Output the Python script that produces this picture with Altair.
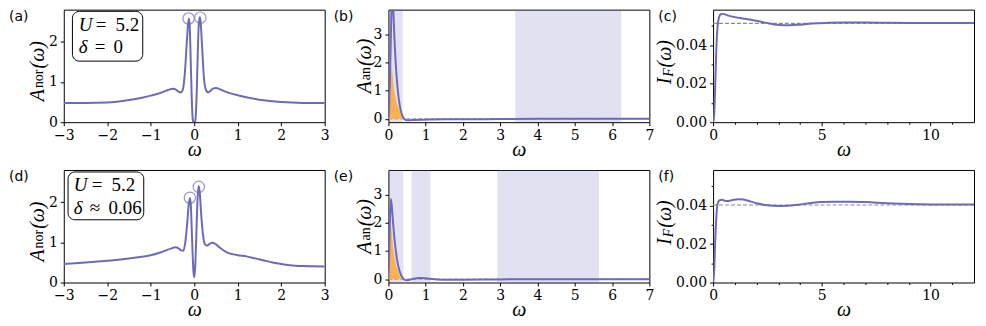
import json
import altair as alt
import pandas as pd

PURPLE = "#6f6ab8"
ORANGE = "#fbb151"
GRAY = "#8c8c8c"
W, H = 262, 113
MATH = "Liberation Serif"
NUM = "DejaVu Serif"
SANS = "DejaVu Sans"

# ---------------- data ----------------
# (a) normal spectral function, delta = 0
a_w = [-3.0, -2.5, -2.0, -1.5, -1.2, -1.0, -0.8, -0.65, -0.55, -0.48, -0.42, -0.36, -0.31, -0.26,
       -0.21, -0.17, -0.14, -0.12, -0.10, -0.08, -0.06, -0.04, -0.02, 0.0, 0.02, 0.04, 0.06, 0.08,
       0.10, 0.13, 0.15, 0.18, 0.22, 0.27, 0.32, 0.38, 0.44, 0.50, 0.57, 0.65, 0.8, 1.0, 1.2, 1.5,
       2.0, 2.5, 3.0]
a_A = [0.48, 0.48, 0.49, 0.55, 0.61, 0.66, 0.72, 0.78, 0.82, 0.83, 0.81, 0.76, 0.74, 0.82,
       1.3, 2.0, 2.45, 2.58, 2.3, 1.5, 0.7, 0.15, 0.0, 0.0, 0.02, 0.25, 0.85, 1.65,
       2.35, 2.62, 2.45, 1.9, 1.15, 0.8, 0.74, 0.79, 0.84, 0.85, 0.83, 0.79, 0.73, 0.67, 0.62, 0.56,
       0.5, 0.48, 0.48]
a_circle_w = [-0.13, 0.14]
a_circle_A = [2.58, 2.60]

# (d) normal spectral function, delta ~ 0.06
d_w = [-3.0, -2.5, -2.0, -1.5, -1.2, -1.0, -0.8, -0.65, -0.52, -0.43, -0.36, -0.30, -0.25, -0.20,
       -0.16, -0.13, -0.10, -0.08, -0.06, -0.04, -0.02, 0.0, 0.02, 0.04, 0.06, 0.08, 0.105, 0.13,
       0.16, 0.20, 0.25, 0.30, 0.36, 0.42, 0.50, 0.60, 0.75, 0.90, 1.0, 1.2, 1.4, 1.6, 1.8, 2.0,
       2.2, 2.5, 3.0]
d_A = [0.46, 0.50, 0.54, 0.60, 0.64, 0.68, 0.74, 0.80, 0.85, 0.88, 0.85, 0.80, 0.79, 1.05,
       1.5, 1.9, 2.1, 1.95, 1.4, 0.8, 0.3, 0.13, 0.35, 0.9, 1.6, 2.15, 2.4, 2.2,
       1.7, 1.2, 0.95, 0.92, 0.97, 0.99, 0.95, 0.86, 0.75, 0.70, 0.68, 0.65, 0.60, 0.55, 0.50, 0.46,
       0.43, 0.41, 0.40]
d_circle_w = [-0.10, 0.105]
d_circle_A = [2.11, 2.38]

# (b) anomalous spectral function, delta = 0
b_w = [0.0, 0.02, 0.04, 0.06, 0.08, 0.10, 0.13, 0.16, 0.19, 0.22, 0.26, 0.30, 0.35, 0.40, 0.46,
       0.55, 0.7, 1.0, 1.5, 2.0, 3.0, 4.0, 5.0, 6.0, 7.0]
b_A = [0.0, 0.4, 1.3, 2.6, 3.8, 4.5, 3.9, 2.9, 2.1, 1.5, 0.9, 0.5, 0.2, 0.05, -0.04,
       -0.05, -0.04, -0.03, -0.02, -0.02, -0.01, 0.0, 0.0, 0.0, 0.0]
b_fill_w = [0.0, 0.03, 0.06, 0.09, 0.11, 0.14, 0.18, 0.22, 0.27, 0.32, 0.37, 0.42]
b_fill_A = [0.0, 0.3, 1.1, 1.85, 1.6, 1.2, 0.85, 0.6, 0.38, 0.2, 0.07, 0.0]
b_band_start = [0.0, 3.40]
b_band_end = [0.38, 6.25]

# (e) anomalous spectral function, delta ~ 0.06
e_w = [0.0, 0.02, 0.04, 0.065, 0.09, 0.12, 0.15, 0.19, 0.23, 0.28, 0.33, 0.38, 0.44, 0.5,
       0.6, 0.7, 0.8, 0.9, 1.0, 1.1, 1.3, 1.6, 2.0, 3.0, 4.0, 5.0, 6.0, 7.0]
e_A = [0.0, 0.9, 2.0, 2.85, 2.6, 2.1, 1.6, 1.1, 0.7, 0.38, 0.17, 0.05, -0.03, -0.04,
       -0.01, 0.02, 0.04, 0.04, 0.03, 0.01, -0.01, -0.02, -0.02, -0.01, 0.0, 0.0, 0.0, 0.0]
e_fill_w = [0.0, 0.02, 0.05, 0.07, 0.10, 0.14, 0.18, 0.23, 0.28, 0.33, 0.38]
e_fill_A = [0.0, 0.6, 1.6, 1.85, 1.5, 1.0, 0.65, 0.38, 0.18, 0.06, 0.0]
e_band_start = [0.0, 0.62, 2.92]
e_band_end = [0.40, 1.13, 5.65]

# (c) cumulative I_F, delta = 0
c_w = [0, 0.05, 0.1, 0.15, 0.2, 0.27, 0.35, 0.45, 0.7, 1.0, 1.3, 1.6, 1.9, 2.2, 2.5, 2.8, 3.1,
       3.5, 3.9, 4.3, 4.8, 5.3, 6.0, 7.0, 8.0, 9.0, 10.0, 11.0, 12.0]
c_I = [0, 0.004, 0.02, 0.038, 0.049, 0.0545, 0.0561, 0.0563, 0.0554, 0.0546, 0.0540, 0.0535,
       0.0529, 0.0522, 0.0515, 0.0508, 0.0505, 0.0504, 0.0506, 0.0510, 0.0514, 0.0517, 0.0518,
       0.0518, 0.0517, 0.0516, 0.0515, 0.0515, 0.0515]
c_ref = [0.0514]

# (f) cumulative I_F, delta ~ 0.06
f_w = [0, 0.05, 0.1, 0.15, 0.2, 0.3, 0.42, 0.55, 0.7, 0.9, 1.15, 1.4, 1.7, 2.0, 2.4, 2.8, 3.2,
       3.6, 4.0, 4.5, 5.0, 5.6, 6.3, 7.0, 8.0, 9.0, 10.0, 11.0, 12.0]
f_I = [0, 0.006, 0.022, 0.034, 0.0405, 0.0428, 0.0430, 0.0425, 0.0424, 0.0429, 0.0433, 0.0431,
       0.0422, 0.0412, 0.0403, 0.0399, 0.0398, 0.0400, 0.0406, 0.0413, 0.0418, 0.0420, 0.0420,
       0.0418, 0.0412, 0.0408, 0.0406, 0.0405, 0.0405]
f_ref = [0.0403]

# axes ticks
nor_x_ticks = [-3, -2.5, -2, -1.5, -1, -0.5, 0, 0.5, 1, 1.5, 2, 2.5, 3]
nor_x_major = [-3, -2, -1, 0, 1, 2, 3]
nor_y_ticks = [0, 0.5, 1, 1.5, 2, 2.5]
nor_y_major = [0, 1, 2]
an_x_ticks = [0, 0.5, 1, 1.5, 2, 2.5, 3, 3.5, 4, 4.5, 5, 5.5, 6, 6.5, 7]
an_x_major = [0, 1, 2, 3, 4, 5, 6, 7]
an_y_ticks = [0, 0.5, 1, 1.5, 2, 2.5, 3, 3.5]
an_y_major = [0, 1, 2, 3]
if_x_ticks = [0, 1, 2, 3, 4, 5, 6, 7, 8, 9, 10, 11]
if_x_major = [0, 5, 10]
if_y_ticks = [0, 0.01, 0.02, 0.03, 0.04, 0.05]
if_y_major = [0, 0.02, 0.04]


# ---------------- helpers ----------------
def make_axis(values, majors, fmt, title=False):
    sel = json.dumps(majors)
    kw = dict(values=values, format=fmt,
              labelExpr=f"indexof({sel}, datum.value) >= 0 ? datum.label : ''",
              tickSize={"condition": {"test": f"indexof({sel}, datum.value) < 0", "value": 2},
                        "value": 3.5},
              labelOverlap=False, labelFlush=False, grid=False, domain=False,
              tickColor="black", tickWidth=1, labelColor="black", labelFont=NUM,
              labelFontSize=14, labelPadding=3)
    if title:
        kw.update(title="ω", titleFont=MATH, titleFontStyle="italic", titleFontSize=20,
                  titleFontWeight="normal", titleBaseline="alphabetic", titlePadding=13,
                  titleColor="black")
    else:
        kw.update(title=None)
    return alt.Axis(**kw)


def enc_x(field, dom, ax):
    return alt.X(f"{field}:Q", scale=alt.Scale(domain=dom, nice=False, zero=False), axis=ax)


def enc_y(field, dom, ax):
    return alt.Y(f"{field}:Q", scale=alt.Scale(domain=dom, nice=False, zero=False), axis=ax)


ONE = pd.DataFrame({"k": [0]})


def txt(s, x, y, size=19, style="normal", font=MATH, align="left", baseline="alphabetic", angle=0):
    kw = dict(text=s, font=font, fontSize=size, fontStyle=style, align=align,
              baseline=baseline, color="black")
    if angle:
        kw["angle"] = angle
    return alt.Chart(ONE).mark_text(**kw).encode(x=alt.value(x), y=alt.value(y))


def ytitle(parts, bx_main, bx_sub, start_y):
    out = []
    y = start_y
    for s, size, style, sub, length in parts:
        out.append(txt(s, bx_sub if sub else bx_main, y, size=size, style=style, angle=270))
        y -= length
    return out


def tag(s):
    return txt(s, -55, 0, size=14, font=SANS, baseline="top")


def panel(layers):
    return alt.layer(*layers).properties(width=W, height=H)


# ---------------- panels ----------------
def nor_panel(tag_s, w, A, cw, cA, box, rows):
    xdom, ydom = [-3, 3], [0, 2.8]
    xa = make_axis(nor_x_ticks, nor_x_major, "d", title=True)
    ya = make_axis(nor_y_ticks, nor_y_major, "d")
    df = pd.DataFrame({"w": w, "v": A})
    cdf = pd.DataFrame({"w": cw, "v": cA})
    line = alt.Chart(df).mark_line(color=PURPLE, strokeWidth=2, interpolate="monotone",
                                   clip=True).encode(x=enc_x("w", xdom, xa), y=enc_y("v", ydom, ya))
    circ = alt.Chart(cdf).mark_point(shape="circle", filled=False, size=130, color=PURPLE,
                                     strokeWidth=1.2).encode(x=enc_x("w", xdom, xa),
                                                             y=enc_y("v", ydom, ya))
    x0, x1, y0, y1 = box
    boxm = alt.Chart(ONE).mark_rect(fill="white", stroke="black", strokeWidth=1,
                                    cornerRadius=7).encode(x=alt.value(x0), x2=alt.value(x1),
                                                           y=alt.value(y0), y2=alt.value(y1))
    texts = []
    for (sym, rel, num, xs, xr, xn, yb) in rows:
        texts.append(txt(sym, xs, yb, style="italic"))
        texts.append(txt(rel, xr, yb))
        texts.append(txt(num, xn, yb))
    yt = ytitle([("A", 20, "italic", False, 13.2), ("nor", 14, "normal", True, 19.7),
                 ("(ω)", 20, "italic", False, 27)], -20, -20.5, 92)
    return panel([line, circ, boxm] + texts + yt + [tag(tag_s)])


def an_panel(tag_s, w, A, fw, fA, bs, be):
    xdom, ydom = [0, 7], [-0.12, 3.88]
    xa = make_axis(an_x_ticks, an_x_major, "d", title=True)
    ya = make_axis(an_y_ticks, an_y_major, "d")
    bands = alt.Chart(pd.DataFrame({"s": bs, "e": be})).mark_rect(
        color=PURPLE, opacity=0.2).encode(x=enc_x("s", xdom, xa), x2="e",
                                          y=alt.value(0), y2=alt.value(H))
    zero = alt.Chart(pd.DataFrame({"v": [0.0]})).mark_rule(
        color=GRAY, strokeDash=[4, 2], strokeWidth=1).encode(y=enc_y("v", ydom, ya))
    fdf = pd.DataFrame({"w": fw, "v": fA, "z": [0.0] * len(fw)})
    area = alt.Chart(fdf).mark_area(color=ORANGE, opacity=1, interpolate="monotone").encode(
        x=enc_x("w", xdom, xa), y=enc_y("v", ydom, ya), y2="z")
    df = pd.DataFrame({"w": w, "v": A})
    line = alt.Chart(df).mark_line(color=PURPLE, strokeWidth=2, interpolate="monotone",
                                   clip=True).encode(x=enc_x("w", xdom, xa), y=enc_y("v", ydom, ya))
    yt = ytitle([("A", 20, "italic", False, 13.2), ("an", 14, "normal", True, 14.2),
                 ("(ω)", 20, "italic", False, 27)], -18, -18.5, 84)
    return panel([bands, zero, area, line] + yt + [tag(tag_s)])


def if_panel(tag_s, w, I, ref):
    xdom, ydom = [0, 12], [0, 0.0585]
    xa = make_axis(if_x_ticks, if_x_major, "d", title=True)
    ya = make_axis(if_y_ticks, if_y_major, ".2f")
    rule = alt.Chart(pd.DataFrame({"v": ref})).mark_rule(
        color=GRAY, strokeDash=[4, 2], strokeWidth=1.2).encode(y=enc_y("v", ydom, ya))
    df = pd.DataFrame({"w": w, "v": I})
    line = alt.Chart(df).mark_line(color=PURPLE, strokeWidth=2, interpolate="monotone",
                                   clip=True).encode(x=enc_x("w", xdom, xa), y=enc_y("v", ydom, ya))
    yt = ytitle([("I", 20, "italic", False, 7.5), ("F", 14, "italic", True, 9.5),
                 ("(ω)", 20, "italic", False, 27)], -42, -40, 75)
    return panel([rule, line] + yt + [tag(tag_s)])


pa = nor_panel("(a)", a_w, a_A, a_circle_w, a_circle_A, (8.7, 79.3, 1.7, 51.7),
               [("U", "=", "5.2", 15, 32, 52, 21), ("δ", "=", "0", 15, 31, 50, 44)])
pd_ = nor_panel("(d)", d_w, d_A, d_circle_w, d_circle_A, (4.3, 80.3, 2, 50),
                [("U", "=", "5.2", 10, 28, 48, 21), ("δ", "≈", "0.06", 10, 26, 45, 44)])
pb = an_panel("(b)", b_w, b_A, b_fill_w, b_fill_A, b_band_start, b_band_end)
pe = an_panel("(e)", e_w, e_A, e_fill_w, e_fill_A, e_band_start, e_band_end)
pc = if_panel("(c)", c_w, c_I, c_ref)
pf = if_panel("(f)", f_w, f_I, f_ref)

chart = alt.concat(pa, pb, pc, pd_, pe, pf, columns=3,
                   spacing={"row": 48, "column": 64}, bounds="flush").properties(
    padding={"left": 0, "top": 0, "right": 2, "bottom": 2},
    background="white",
).configure_view(stroke="black", strokeWidth=1)

chart.save("out.html", embed_options={"renderer": "svg", "actions": False})
